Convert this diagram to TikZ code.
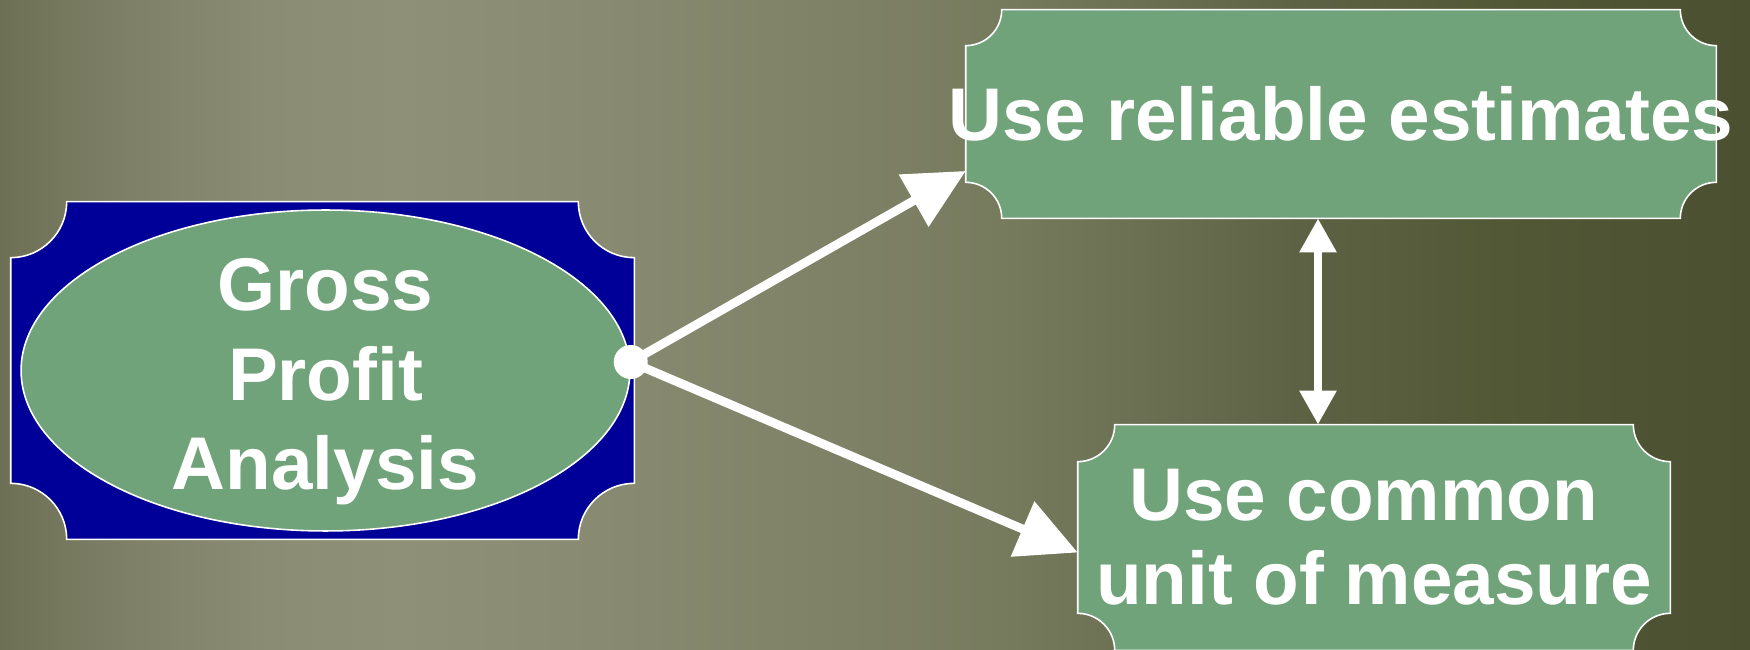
\documentclass[tikz,border=0pt]{standalone}
\usepackage{fontspec}
\setmainfont{Liberation Sans}
\usetikzlibrary{arrows.meta,shapes.geometric}

\definecolor{frameblue}{HTML}{000099}
\definecolor{sage}{HTML}{70A379}
\definecolor{bgA}{HTML}{6D7055}
\definecolor{bgB}{HTML}{7E8167}
\definecolor{bgC}{HTML}{8A8D73}
\definecolor{bgD}{HTML}{8E9177}
\definecolor{bgE}{HTML}{888B71}
\definecolor{bgF}{HTML}{7F8267}
\definecolor{bgG}{HTML}{777B5E}
\definecolor{bgH}{HTML}{6A6F51}
\definecolor{bgI}{HTML}{5D6244}
\definecolor{bgJ}{HTML}{525836}
\definecolor{bgK}{HTML}{4A5030}

\pgfdeclarelayer{back}
\pgfdeclarelayer{frames}
\pgfsetlayers{back,frames,main}

\pgfdeclarehorizontalshading{backdrop}{100bp}{color(0bp)=(bgA); color(25bp)=(bgA);
  color(28.7bp)=(bgB); color(32.7bp)=(bgC); color(36.4bp)=(bgD); color(42.1bp)=(bgE);
  color(48.4bp)=(bgF); color(53.6bp)=(bgG); color(57.9bp)=(bgH); color(62.1bp)=(bgI);
  color(67.9bp)=(bgJ); color(75bp)=(bgK); color(100bp)=(bgK)}

% plaque outline with scooped corners: node, corner radius, fill
\newcommand{\plaque}[3]{%
  \filldraw[fill=#3, draw=white, line width=0.9pt]
    ([xshift=#2]#1.north west) -- ([xshift=-#2]#1.north east)
    arc[start angle=180, end angle=270, radius=#2]
    -- ([yshift=#2]#1.south east)
    arc[start angle=90, end angle=180, radius=#2]
    -- ([xshift=#2]#1.south west)
    arc[start angle=0, end angle=90, radius=#2]
    -- ([yshift=-#2]#1.north west)
    arc[start angle=270, end angle=360, radius=#2] -- cycle;}

\tikzset{
  frame/.style={rectangle, inner sep=0pt},
  oval/.style={ellipse, fill=sage, draw=white, line width=0.9pt, inner sep=0pt,
    minimum width=12.18cm, minimum height=6.42cm},
  title/.style={text=white, font=\fontsize{42.5}{#1}\selectfont\bfseries, align=center, inner sep=0pt},
  title/.default=48,
  hubdot/.style={circle, fill=white, inner sep=0pt, minimum size=0.68cm},
  link/.style={draw=white, line width=5pt, -{Triangle[length=1.2cm,width=1.16cm]}},
  twoway/.style={draw=white, line width=5pt, {Triangle[length=0.68cm,width=0.7cm]}-{Triangle[length=0.68cm,width=0.7cm]}}
}

\begin{document}
\begin{tikzpicture}[x=0.02cm,y=0.02cm]
\useasboundingbox (0,0) rectangle (1750,649);
\begin{pgfonlayer}{back}
\shade[shading=backdrop] (0,0) rectangle (1750,649);
\end{pgfonlayer}

% boxes
\node[frame, minimum width=12.46cm, minimum height=6.74cm] (gpabox) at (322.5,278.5) {};
\node[oval] (gpa) at (325.5,278.5) {};
\node[title=51] (gpatext) at ([yshift=-0.23cm]gpa.center) {Gross\\Profit\\Analysis};
\node[frame, minimum width=15cm, minimum height=4.16cm] (relbox) at (1341,535) {};
\node[title] (reltext) at (relbox) {Use reliable estimates};
\node[frame, minimum width=11.84cm, minimum height=4.5cm] (combox) at (1374,111.5) {};
\node[title] (comtext) at (combox) {Use common\hspace*{0.28em}\\unit of measure};

\begin{pgfonlayer}{frames}
\plaque{gpabox}{1.12cm}{frameblue}
\plaque{relbox}{0.72cm}{sage}
\plaque{combox}{0.74cm}{sage}
\end{pgfonlayer}

% arrows
\node[hubdot] (hub) at ([yshift=0.17cm]gpa.east) {};
\draw[link] (hub.center) -- ([yshift=-1.14cm]relbox.west);
\draw[link] (hub.center) -- ([yshift=-0.3cm]combox.west);
\draw[twoway] ([xshift=-0.46cm]relbox.south) -- ([xshift=-0.46cm]relbox.south |- combox.north);
\end{tikzpicture}
\end{document}
